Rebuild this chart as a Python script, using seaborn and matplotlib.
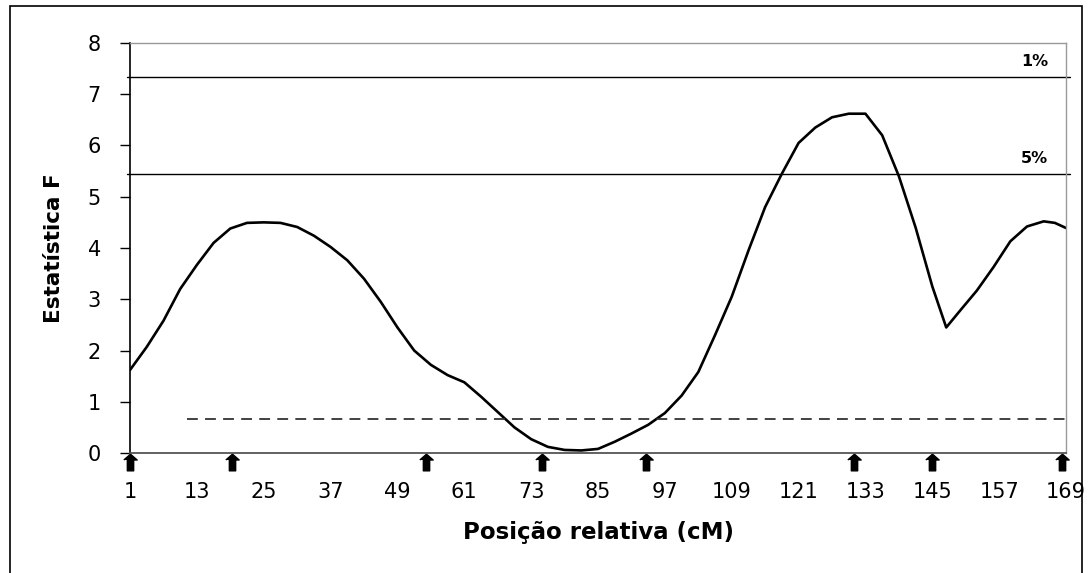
import matplotlib
matplotlib.use("Agg")
import matplotlib.pyplot as plt
import matplotlib.transforms as mtransforms
from matplotlib.patches import Rectangle
import seaborn as sns
import pandas as pd

# position (cM) and F statistic
positions = [1, 4, 7, 10, 13, 16, 19, 22, 25, 28, 31, 34, 37, 40, 43, 46, 49,
             52, 55, 58, 61, 64, 67, 70, 73, 76, 79, 82, 85, 88, 91, 94, 97,
             100, 103, 106, 109, 112, 115, 118, 121, 124, 127, 130, 133, 136,
             139, 142, 145, 147.5, 150, 153, 156, 159, 162, 165, 167, 169]
f_values = [1.62, 2.07, 2.58, 3.20, 3.67, 4.10, 4.38, 4.49, 4.50, 4.49, 4.41,
            4.24, 4.02, 3.76, 3.40, 2.95, 2.45, 2.00, 1.72, 1.52, 1.38, 1.10,
            0.80, 0.50, 0.27, 0.12, 0.06, 0.05, 0.08, 0.22, 0.38, 0.55, 0.78,
            1.12, 1.58, 2.30, 3.05, 3.95, 4.80, 5.45, 6.05, 6.35, 6.55, 6.62,
            6.62, 6.20, 5.40, 4.40, 3.25, 2.45, 2.78, 3.17, 3.63, 4.13, 4.42,
            4.52, 4.49, 4.39]

# molecular marker positions (arrows under the axis)
markers_cm = [1, 19.3, 54.2, 75, 93.7, 131, 144.9, 168.2]

# significance thresholds
threshold_1 = 7.34
threshold_5 = 5.45
dashed_level = 0.66
dashed_start = 11.2

xticks = list(range(1, 170, 12))
yticks = list(range(0, 9))

df = pd.DataFrame({"pos": positions, "F": f_values})

sns.set_style("white")
plt.rcParams['font.family'] = ['DejaVu Sans']
plt.rcParams['text.color'] = 'black'
plt.rcParams['xtick.color'] = 'black'
plt.rcParams['ytick.color'] = 'black'
plt.rcParams['axes.labelcolor'] = 'black'

fig = plt.figure(figsize=(10.89, 5.73), dpi=100)
ax = fig.add_axes([0.1194, 0.2094, 0.8595, 0.7156])

sns.lineplot(data=df, x="pos", y="F", ax=ax, color="black", linewidth=1.9,
             sort=False, legend=False)

ax.axhline(threshold_1, xmin=-0.003, xmax=1.004, color="black", lw=1.0,
           clip_on=False)
ax.axhline(threshold_5, xmin=-0.003, xmax=1.004, color="black", lw=1.0,
           clip_on=False)
ax.plot([dashed_start, 169], [dashed_level, dashed_level], color="#333333",
        lw=1.3, linestyle=(0, (6, 4)))

ax.text(0.981, threshold_1 + 0.15, "1%", transform=ax.get_yaxis_transform(),
        ha="right", va="bottom", fontsize=11.5, fontweight="bold")
ax.text(0.981, threshold_5 + 0.15, "5%", transform=ax.get_yaxis_transform(),
        ha="right", va="bottom", fontsize=11.5, fontweight="bold")

# arrows for markers
arrow = [(-0.8, 0.3), (0, 1), (0.8, 0.3), (0.38, 0.3), (0.38, -1),
         (-0.38, -1), (-0.38, 0.3)]
trans = mtransforms.blended_transform_factory(ax.transData, ax.transAxes)
ax.plot(markers_cm, [-0.021] * len(markers_cm), linestyle="none", marker=arrow,
        markersize=12, color="black", transform=trans, clip_on=False)

ax.set_xlim(1, 169)
ax.set_ylim(0, 8)
ax.set_xticks(xticks)
ax.set_yticks(yticks)
ax.tick_params(axis="x", length=0, pad=21, labelsize=15)
ax.tick_params(axis="y", length=7, width=1, direction="out", pad=14,
               labelsize=15, left=True)

for side in ["top", "right"]:
    ax.spines[side].set_color("#999999")
    ax.spines[side].set_linewidth(1.0)
ax.spines["left"].set_color("black")
ax.spines["left"].set_linewidth(1.2)
ax.spines["bottom"].set_color("#555555")
ax.spines["bottom"].set_linewidth(1.3)

ax.set_xlabel("Posição relativa (cM)", fontsize=16.5, fontweight="bold")
ax.set_ylabel("Estatística F", fontsize=15.5, fontweight="bold")
ax.xaxis.set_label_coords(0.5, -0.165)
ax.yaxis.set_label_coords(-0.081, 0.5)
ax.yaxis.label.set_va("center")

# outer frame
fig.patches.append(Rectangle((10 / 1089, -0.02), 1072 / 1089, 1.02 - 6 / 573,
                             transform=fig.transFigure, fill=False,
                             edgecolor="black", linewidth=1.2))

fig.savefig("out.png", dpi=100)
plt.close(fig)
